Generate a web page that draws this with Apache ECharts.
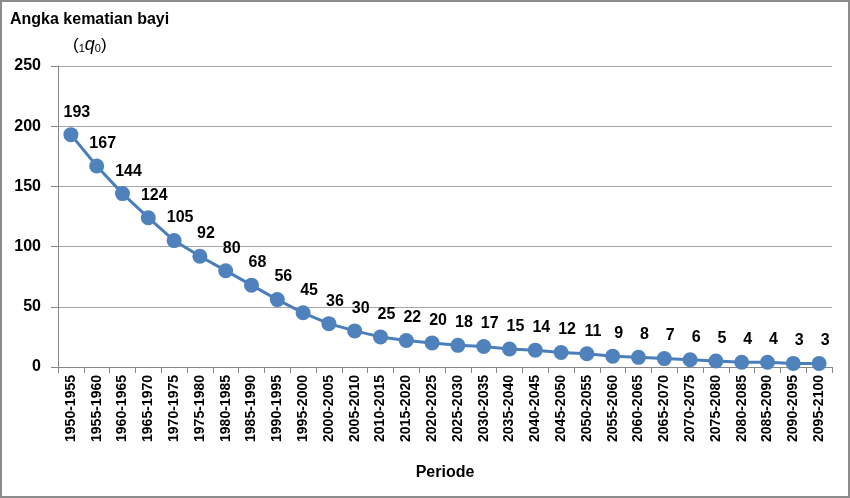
<!DOCTYPE html>
<html><head><meta charset="utf-8">
<script src="https://cdn.jsdelivr.net/npm/echarts@6/dist/echarts.min.js"></script>
<style>html,body{margin:0;padding:0;background:#fff}#c{width:850px;height:498px;box-sizing:border-box;border:2px solid #8c8c8c}</style>
</head><body><div id="c"></div>
<script>
const categories = ["1950-1955","1955-1960","1960-1965","1965-1970","1970-1975","1975-1980","1980-1985","1985-1990","1990-1995","1995-2000","2000-2005","2005-2010","2010-2015","2015-2020","2020-2025","2025-2030","2030-2035","2035-2040","2040-2045","2045-2050","2050-2055","2055-2060","2060-2065","2065-2070","2070-2075","2075-2080","2080-2085","2085-2090","2090-2095","2095-2100"];
const values = [193,167,144,124,105,92,80,68,56,45,36,30,25,22,20,18,17,15,14,12,11,9,8,7,6,5,4,4,3,3];
const yTicks = [0,50,100,150,200,250];
const FONT = '"Liberation Sans Narrow","Arial Narrow",Arial,sans-serif';
const chart = echarts.init(document.getElementById('c'), null, {renderer:'canvas'});
chart.setOption({
  animation:false,
  grid:{left:56,right:16,top:64,bottom:129},
  title:[{
    text:'Angka kematian bayi',
    left:3, top:5,
    textStyle:{fontFamily:FONT,fontWeight:'bold',fontSize:16,color:'#000'}
  },{
    text:'{p|(}{s|1}{q|q}{s|0}{p|)}',
    left:66, top:24,
    textStyle:{fontFamily:FONT,fontWeight:'normal',fontSize:16,color:'#000',
      rich:{p:{fontFamily:FONT,fontWeight:'normal',fontSize:17,color:'#000',height:20,verticalAlign:'middle'},
            s:{fontFamily:FONT,fontWeight:'normal',fontSize:11,color:'#000',height:20,verticalAlign:'bottom',padding:[8,0,0,0]},
            q:{fontFamily:FONT,fontWeight:'normal',fontSize:18,fontStyle:'italic',color:'#000',height:20,verticalAlign:'middle'}}}
  }],
  xAxis:{
    type:'category',data:categories,boundaryGap:true,
    name:'Periode',nameLocation:'middle',nameGap:98,
    nameTextStyle:{fontFamily:FONT,fontWeight:'bold',fontSize:16,color:'#000'},
    axisLine:{lineStyle:{color:'#868686',width:1}},
    axisTick:{show:true,alignWithLabel:false,length:6,lineStyle:{color:'#868686'}},
    axisLabel:{rotate:90,interval:0,fontFamily:FONT,fontWeight:'bold',fontSize:14,color:'#000',margin:8}
  },
  yAxis:{
    type:'value',min:0,max:250,interval:50,
    axisLine:{show:true,lineStyle:{color:'#868686',width:1}},
    axisTick:{show:true,length:7,lineStyle:{color:'#868686'}},
    splitLine:{lineStyle:{color:'#a6a6a6',width:1}},
    axisLabel:{fontFamily:FONT,fontWeight:'bold',fontSize:16,color:'#000',margin:17,
      formatter:v=>yTicks.includes(v)?String(v):''}
  },
  series:[{
    type:'line',data:values,symbol:'circle',symbolSize:15,
    lineStyle:{color:'#4A7EBB',width:3},
    itemStyle:{color:'#4F81BD'},
    label:{show:true,position:'top',distance:7,offset:[6,0],fontFamily:FONT,fontWeight:'bold',fontSize:16,color:'#000'}
  }]
});
</script></body></html>
